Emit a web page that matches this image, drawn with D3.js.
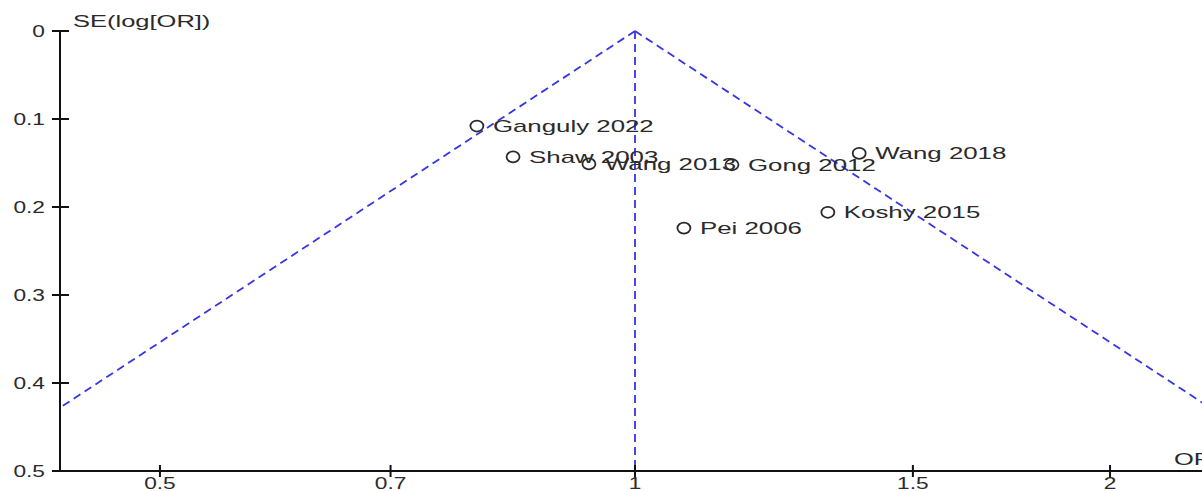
<!DOCTYPE html>
<html>
<head>
<meta charset="utf-8">
<script src="https://cdn.jsdelivr.net/npm/d3@7"></script>
<style>
  html, body { margin: 0; padding: 0; background: #fff; overflow: hidden; }
  svg { display: block; }
  text { font-family: "Liberation Sans", Arial, sans-serif; fill: #2a2a2a; }
</style>
</head>
<body>
<svg id="chart" width="1202" height="491"></svg>
<script>
// ---- data ----
const studies = ["Ganguly 2022", "Shaw 2003", "Wang 2013", "Gong 2012", "Wang 2018", "Koshy 2015", "Pei 2006"];
const oddsRatios = [0.794, 0.837, 0.935, 1.152, 1.387, 1.325, 1.074];
const standardErrors = [0.108, 0.143, 0.151, 0.152, 0.139, 0.206, 0.224];
const xTicks = [0.5, 0.7, 1, 1.5, 2];
const xTickLabels = ["0.5", "0.7", "1", "1.5", "2"];
const yTicks = [0, 0.1, 0.2, 0.3, 0.4, 0.5];
const yTickLabels = ["0", "0.1", "0.2", "0.3", "0.4", "0.5"];
const pooledOR = 1;
const seMax = 0.5;
const logHalfWidth = 0.839;

// ---- layout ----
const svg = d3.select("#chart");
const mLeft = 60, mRight = 1210, mTop = 31, mBottom = 471;

const x = d3.scaleLog().domain([Math.exp(-logHalfWidth), Math.exp(logHalfWidth)]).range([mLeft, mRight]);
const y = d3.scaleLinear().domain([0, seMax]).range([mTop, mBottom]);

function stretchedText(parent, px, py, str, anchor, size, sx) {
  const g = parent.append("g").attr("transform", `translate(${px},${py}) scale(${sx},1)`);
  g.append("text").attr("x", 0).attr("y", 0).attr("font-size", size + "px")
    .attr("text-anchor", anchor || "start").text(str);
  return g;
}

svg.append("defs").append("clipPath").attr("id", "plotClip")
  .append("rect").attr("x", mLeft).attr("y", mTop - 5).attr("width", mRight - mLeft).attr("height", mBottom - mTop + 5);

// ---- funnel lines ----
const funnel = svg.append("g").attr("clip-path", "url(#plotClip)");
const lineGen = d3.line().x(d => x(d[0])).y(d => y(d[1]));
const z = 1.96;
const leftLine = [[pooledOR, 0], [pooledOR * Math.exp(-z * seMax), seMax]];
const rightLine = [[pooledOR, 0], [pooledOR * Math.exp(z * seMax), seMax]];
const midLine = [[pooledOR, 0], [pooledOR, seMax]];
[leftLine, rightLine, midLine].forEach(l => {
  funnel.append("path").attr("d", lineGen(l))
    .attr("fill", "none").attr("stroke", "#3535e8").attr("stroke-width", 1.8)
    .attr("stroke-dasharray", "8,5");
});

// ---- axes ----
const axes = svg.append("g").attr("stroke", "#111").attr("stroke-width", 2);
axes.append("line").attr("x1", mLeft).attr("x2", mLeft).attr("y1", y(0)).attr("y2", y(seMax));
axes.append("line").attr("x1", mLeft).attr("x2", 1202).attr("y1", y(seMax)).attr("y2", y(seMax));
yTicks.forEach(t => {
  axes.append("line").attr("x1", mLeft - 8).attr("x2", mLeft + 9).attr("y1", y(t)).attr("y2", y(t));
});
xTicks.forEach(t => {
  axes.append("line").attr("x1", x(t)).attr("x2", x(t)).attr("y1", y(seMax) - 6).attr("y2", y(seMax) + 6);
});

const labels = svg.append("g");
yTicks.forEach((t, i) => stretchedText(labels, mLeft - 15, y(t) + 6, yTickLabels[i], "end", 16, 1.42));
xTicks.forEach((t, i) => stretchedText(labels, x(t), 489, xTickLabels[i], "middle", 16, 1.42));
stretchedText(labels, 73, 27, "SE(log[OR])", "start", 17, 1.5);
stretchedText(labels, 1174, 465, "OR", "start", 17, 1.5);

// ---- points ----
const pts = svg.append("g");
studies.forEach((s, i) => {
  const cx = x(oddsRatios[i]), cy = y(standardErrors[i]);
  pts.append("ellipse").attr("cx", cx).attr("cy", cy).attr("rx", 6.5).attr("ry", 5.5)
    .attr("fill", "none").attr("stroke", "#2a2a2a").attr("stroke-width", 1.8);
  stretchedText(pts, cx + 16, cy + 6, s, "start", 17, 1.52);
});
</script>
</body>
</html>
